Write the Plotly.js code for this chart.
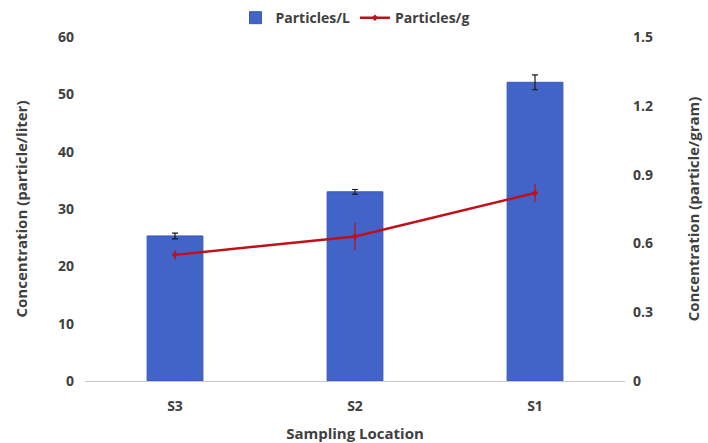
<!DOCTYPE html>
<html><head><meta charset="utf-8">
<script src="https://cdn.plot.ly/plotly-3.0.1.min.js"></script>
<style>html,body{margin:0;padding:0;background:#fff}#chart{width:708px;height:443px}</style>
</head><body><div id="chart"></div>
<script>
const categories = ["S3", "S2", "S1"];
const particlesPerL = [25.3, 33.0, 52.1];
const particlesPerLErr = [0.5, 0.4, 1.3];
const particlesPerG = [0.55, 0.63, 0.82];
const particlesPerGErr = [0.02, 0.06, 0.04];
const leftTicks = [0, 10, 20, 30, 40, 50, 60];
const rightTicks = [0, 0.3, 0.6, 0.9, 1.2, 1.5];

const font = {family: "Open Sans, Liberation Sans, sans-serif", size: 14, color: "#404040", weight: 700};
const titleFont = {...font, size: 15};

const traces = [
  {type: "bar", name: "Particles/L", x: categories, y: particlesPerL,
   marker: {color: "#4263C8", line: {color: "#3A58B8", width: 1}}, width: 0.31,
   error_y: {type: "data", array: particlesPerLErr, visible: true, color: "#1a1a1a", thickness: 1.2, width: 3}},
  {type: "scatter", mode: "lines+markers", name: "Particles/g", x: categories, y: particlesPerG, yaxis: "y2",
   line: {color: "#C0101A", width: 2.5}, marker: {color: "#C0101A", size: 5, symbol: "diamond"},
   error_y: {type: "data", array: particlesPerGErr, visible: true, color: "#C0101A", thickness: 1.2, width: 0}}
];

const layout = {
  width: 708, height: 443,
  margin: {l: 85, r: 83, t: 37, b: 62, autoexpand: false},
  paper_bgcolor: "#fff", plot_bgcolor: "#fff",
  font: font,
  showlegend: true,
  legend: {orientation: "h", x: 0.5, xanchor: "center", y: 1.055, yanchor: "middle", font: font, traceorder: "normal"},
  xaxis: {showgrid: false, showline: true, linecolor: "#c8c8c8", linewidth: 1, ticks: "", tickfont: font,
          ticklabelstandoff: 12, automargin: false,
          title: {text: "Sampling Location", font: titleFont, standoff: 14}},
  yaxis: {range: [0, 60], tickvals: leftTicks, showgrid: false, showline: false, zeroline: false, ticks: "",
          tickfont: font, ticklabelstandoff: 10, automargin: false,
          title: {text: "Concentration (particle/liter)", font: titleFont, standoff: 26}},
  yaxis2: {range: [0, 1.5], tickmode: "array", tickvals: rightTicks,
           ticktext: rightTicks.map(v => v === 0 ? "0" : v.toFixed(1)),
           overlaying: "y", side: "right", showgrid: false, showline: false,
           zeroline: false, ticks: "", tickfont: font, ticklabelstandoff: 7, automargin: false,
           title: {text: "Concentration (particle/gram)", font: titleFont, standoff: 36}}
};
Plotly.newPlot("chart", traces, layout, {displayModeBar: false, staticPlot: true});
</script></body></html>
